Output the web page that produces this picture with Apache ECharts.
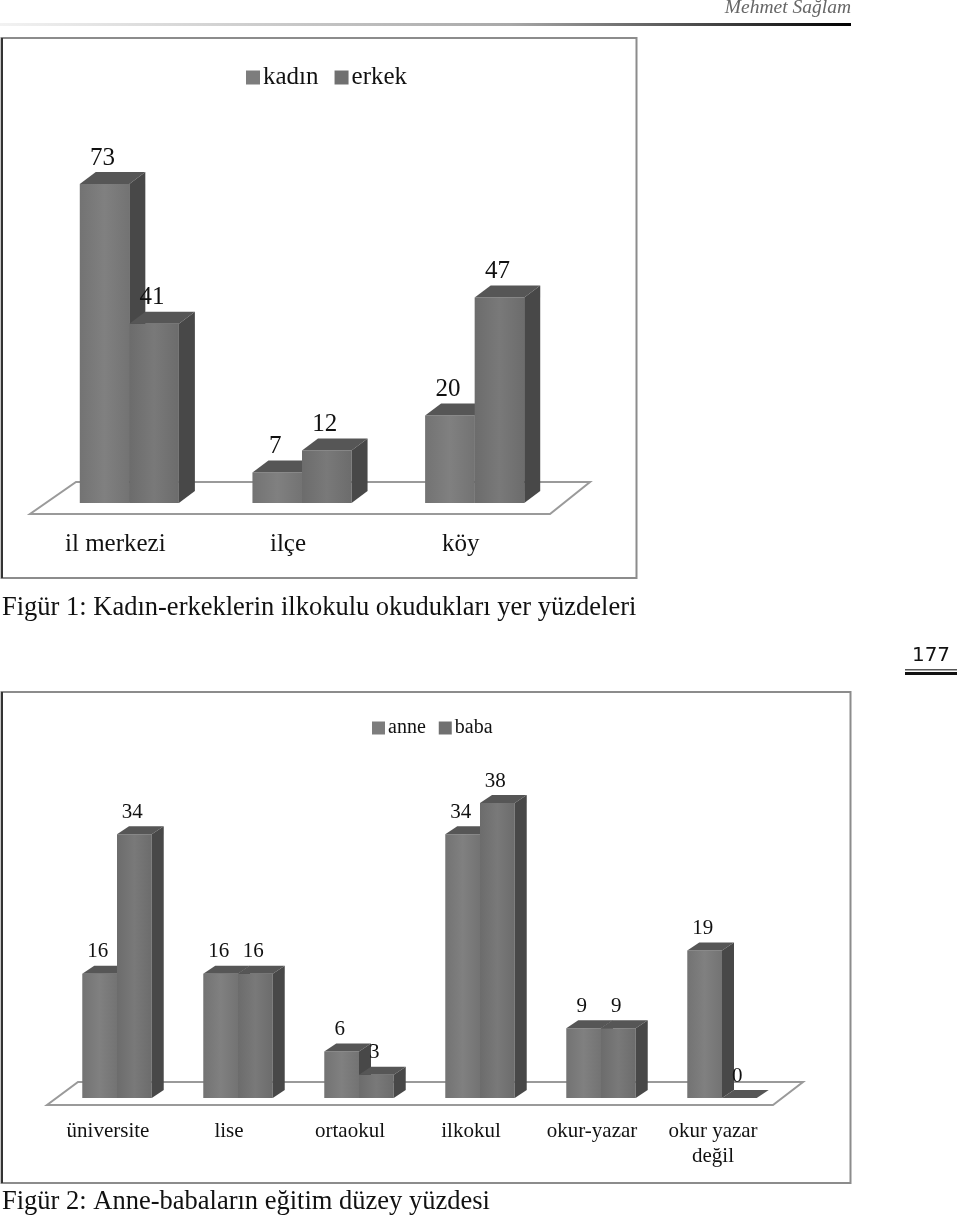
<!DOCTYPE html>
<html>
<head>
<meta charset="utf-8">
<title>Figür 1-2</title>
<script src="https://cdn.jsdelivr.net/npm/echarts@6/dist/echarts.min.js"></script>
<style>
  html,body{margin:0;padding:0;background:#fff;}
  #main{width:960px;height:1219px;}
</style>
</head>
<body>
<div id="main"></div>
<script>
var yerCategories = ['il merkezi', 'ilçe', 'köy'];
var kadinValues = [73, 7, 20];
var erkekValues = [41, 12, 47];

var egitimCategories = ['üniversite', 'lise', 'ortaokul', 'ilkokul', 'okur-yazar', 'okur yazar\ndeğil'];
var anneValues = [16, 16, 6, 34, 9, 19];
var babaValues = [34, 16, 3, 38, 9, 0];

var serif = '"Liberation Serif", serif';
var myChart = echarts.init(document.getElementById('main'));

// one half of a group: front, top and side faces plus the value above it
function bar3d(side, depthX, depthY, ratio, labelSize, labelGap, front) {
  return function (params, api) {
    var p = api.coord([api.value(0), api.value(1)]);
    var base = api.coord([api.value(0), 0]);
    var w = api.size([1, 0])[0] * ratio;
    var x0 = side < 0 ? p[0] - w : p[0];
    var x1 = x0 + w;
    var children = [];
    if (base[1] - p[1] > 0) {
      children.push({
        type: 'rect',
        shape: {x: x0, y: p[1], width: w, height: base[1] - p[1]},
        style: {
          fill: new echarts.graphic.LinearGradient(0, 0, 1, 0, [
            {offset: 0, color: front[0]},
            {offset: 0.5, color: front[1]},
            {offset: 1, color: front[0]}
          ])
        }
      });
    }
    children.push({
      type: 'polygon',
      shape: {points: [[x0, p[1]], [x1, p[1]], [x1 + depthX, p[1] - depthY], [x0 + depthX, p[1] - depthY]]},
      style: {fill: '#565656'}
    });
    children.push({
      type: 'polygon',
      shape: {points: [[x1, p[1]], [x1 + depthX, p[1] - depthY], [x1 + depthX, base[1] - depthY], [x1, base[1]]]},
      style: {fill: '#484848'}
    });
    children.push({
      type: 'text',
      z2: 50,
      style: {
        text: String(api.value(1)),
        x: (x0 + x1) / 2 - 2,
        y: p[1] - labelGap,
        fill: '#111',
        font: labelSize + 'px ' + serif,
        textAlign: 'center',
        textVerticalAlign: 'middle'
      }
    });
    return {type: 'group', children: children};
  };
}

function floor(frontLeft, frontRight, backLeft, backRight, below, behind) {
  return function (params, api) {
    var c = params.coordSys;
    var base = api.coord([0, 0])[1];
    return {
      type: 'polygon',
      shape: {points: [
        [c.x + frontLeft, base + below],
        [c.x + c.width + frontRight, base + below],
        [c.x + c.width + backRight, base - behind],
        [c.x + backLeft, base - behind]
      ]},
      style: {fill: '#fff', stroke: '#9a9a9a', lineWidth: 2}
    };
  };
}

function pairs(values) {
  return values.map(function (v, i) { return [i, v]; });
}

myChart.setOption({
  backgroundColor: '#fff',
  animation: false,
  tooltip: {show: false},
  legend: [
    {
      data: ['kadın', 'erkek'],
      left: 241, top: 60,
      icon: 'rect', itemWidth: 14, itemHeight: 14, itemGap: 16,
      textStyle: {fontFamily: serif, fontSize: 25, color: '#111', padding: [0, 0, 0, -2]}
    },
    {
      data: ['anne', 'baba'],
      left: 367, top: 713,
      icon: 'rect', itemWidth: 13, itemHeight: 13, itemGap: 13,
      textStyle: {fontFamily: serif, fontSize: 20, color: '#111', padding: [0, 0, 0, -2]}
    }
  ],
  grid: [
    {left: 43, width: 518, top: 153.4, height: 349.6},
    {left: 56.5, width: 726, top: 787.6, height: 310.4}
  ],
  xAxis: [
    {
      type: 'category', gridIndex: 0, data: yerCategories,
      axisLine: {show: false}, axisTick: {show: false},
      axisLabel: {interval: 0, margin: 29, fontFamily: serif, fontSize: 25, color: '#111', padding: [0, 28, 0, 0]}
    },
    {
      type: 'category', gridIndex: 1, data: egitimCategories,
      axisLine: {show: false}, axisTick: {show: false},
      axisLabel: {interval: 0, margin: 21, fontFamily: serif, fontSize: 21, lineHeight: 25, color: '#111', padding: [0, 18, 0, 0]}
    }
  ],
  yAxis: [
    {type: 'value', gridIndex: 0, min: 0, max: 80, show: false},
    {type: 'value', gridIndex: 1, min: 0, max: 40, show: false}
  ],
  series: [
    {
      type: 'custom', name: 'zemin1', xAxisIndex: 0, yAxisIndex: 0, silent: true,
      renderItem: floor(-13, -11, 33, 29, 11, 21),
      data: [[0, 0]]
    },
    {
      type: 'custom', name: 'kadın', xAxisIndex: 0, yAxisIndex: 0,
      itemStyle: {color: '#7d7d7d'},
      renderItem: bar3d(-1, 16, 12, 0.287, 25, 26, ['#737373', '#808080']),
      encode: {x: 0, y: 1},
      data: pairs(kadinValues)
    },
    {
      type: 'custom', name: 'erkek', xAxisIndex: 0, yAxisIndex: 0,
      itemStyle: {color: '#707070'},
      renderItem: bar3d(1, 16, 12, 0.287, 25, 26, ['#6c6c6c', '#797979']),
      encode: {x: 0, y: 1},
      data: pairs(erkekValues)
    },
    {
      type: 'custom', name: 'zemin2', xAxisIndex: 1, yAxisIndex: 1, silent: true,
      renderItem: floor(-9.5, -9.5, 21.5, 20.5, 7, 16),
      data: [[0, 0]]
    },
    {
      type: 'custom', name: 'anne', xAxisIndex: 1, yAxisIndex: 1,
      itemStyle: {color: '#7d7d7d'},
      renderItem: bar3d(-1, 12, 8, 0.287, 21, 22, ['#737373', '#808080']),
      encode: {x: 0, y: 1},
      data: pairs(anneValues)
    },
    {
      type: 'custom', name: 'baba', xAxisIndex: 1, yAxisIndex: 1,
      itemStyle: {color: '#707070'},
      renderItem: bar3d(1, 12, 8, 0.287, 21, 22, ['#6c6c6c', '#797979']),
      encode: {x: 0, y: 1},
      data: pairs(babaValues)
    }
  ],
  graphic: [
    // page furniture around the two figures
    {
      type: 'rect', silent: true, z: -1,
      shape: {x: 0, y: 23, width: 851, height: 3},
      style: {fill: new echarts.graphic.LinearGradient(0, 0, 1, 0, [
        {offset: 0, color: '#f2f2f2'},
        {offset: 0.6, color: '#a8a8a8'},
        {offset: 1, color: '#000'}
      ])}
    },
    {type: 'text', silent: true, style: {text: 'Mehmet Sağlam', x: 851, y: 8, fill: '#666', font: 'italic 19.5px ' + serif, textAlign: 'right', textVerticalAlign: 'middle'}},
    {type: 'rect', silent: true, z: -1, shape: {x: 1.5, y: 38, width: 635, height: 540}, style: {fill: '#fff', stroke: '#8c8c8c', lineWidth: 2}},
    {type: 'rect', silent: true, shape: {x: 1, y: 38, width: 2, height: 540}, style: {fill: '#333'}},
    {type: 'text', silent: true, style: {text: 'Figür 1: Kadın-erkeklerin ilkokulu okudukları yer yüzdeleri', x: 2, y: 608, fill: '#111', font: '26.5px ' + serif, textVerticalAlign: 'middle'}},
    {type: 'text', silent: true, style: {text: '177', x: 931, y: 656, fill: '#111', font: '20px "DejaVu Sans"', textAlign: 'center', textVerticalAlign: 'middle'}},
    {type: 'rect', silent: true, shape: {x: 905, y: 669, width: 52, height: 1.5}, style: {fill: '#555'}},
    {type: 'rect', silent: true, shape: {x: 905, y: 672, width: 52, height: 3}, style: {fill: '#111'}},
    {type: 'rect', silent: true, z: -1, shape: {x: 1.5, y: 692, width: 849, height: 491}, style: {fill: '#fff', stroke: '#8c8c8c', lineWidth: 2}},
    {type: 'rect', silent: true, shape: {x: 1, y: 692, width: 2, height: 491}, style: {fill: '#333'}},
    {type: 'text', silent: true, style: {text: 'Figür 2: Anne-babaların eğitim düzey yüzdesi', x: 2, y: 1202, fill: '#111', font: '26.5px ' + serif, textVerticalAlign: 'middle'}}
  ]
});
</script>
</body>
</html>
